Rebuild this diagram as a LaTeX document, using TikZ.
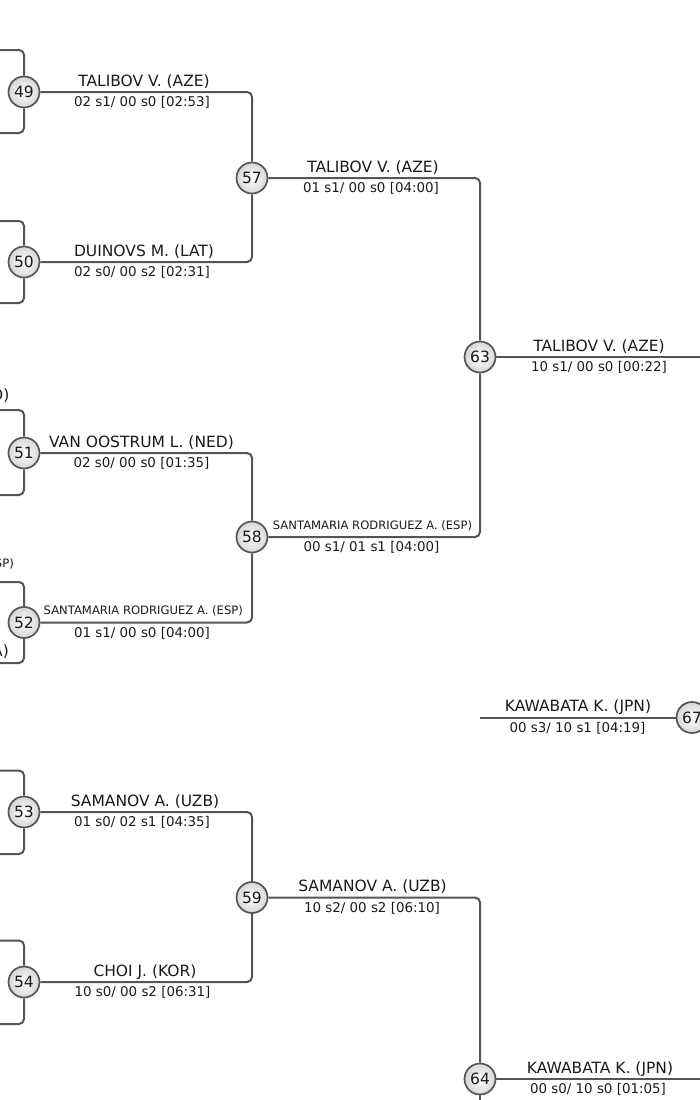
\documentclass[tikz,border=0pt]{standalone}
\usepackage{fontspec}
\setmainfont{DejaVu Sans}
\definecolor{ln}{HTML}{555555}
\definecolor{tx}{HTML}{1A1A1A}
\begin{document}
\begin{tikzpicture}[x=1pt,y=-1pt,
 conn/.style={draw=ln, line width=2pt, rounded corners=5pt},
 circ/.style={circle, draw=ln, line width=1.7pt, minimum size=31pt, inner sep=0pt,
   shading=radial, inner color=white, outer color=gray!32,
   font=\fontsize{15.5}{15.5}\selectfont, text=tx},
 nm/.style={anchor=base, inner sep=0pt, font=\fontsize{15.5}{16}\selectfont, text=tx},
 nms/.style={anchor=base, inner sep=0pt, font=\fontsize{11.6}{12}\selectfont, text=tx},
 sc/.style={anchor=base, inner sep=0pt, font=\fontsize{13.4}{14}\selectfont, text=tx},
 cut/.style={anchor=base east, inner sep=0pt, text=tx}
]
\useasboundingbox (0,0) rectangle (700,1100);
\clip (0,0) rectangle (700,1100);

% match circles
\node[circ] (m49) at (24,92) {49};
\node[circ] (m50) at (24,262) {50};
\node[circ] (m51) at (24,453) {51};
\node[circ] (m52) at (24,622.5) {52};
\node[circ] (m53) at (24,812) {53};
\node[circ] (m54) at (24,982) {54};
\node[circ] (m57) at (252,178) {57};
\node[circ] (m58) at (252,537) {58};
\node[circ] (m59) at (252,897.5) {59};
\node[circ] (m63) at (480,357) {63};
\node[circ] (m64) at (480,1079) {64};
\node[circ] (m67) at (692,717.5) {67};

% free ends
\coordinate (a49) at (0,50);   \coordinate (b49) at (0,133);
\coordinate (a50) at (0,221);  \coordinate (b50) at (0,303);
\coordinate (a51) at (0,410);  \coordinate (b51) at (0,495);
\coordinate (a52) at (0,582);  \coordinate (b52) at (0,663);
\coordinate (a53) at (0,770.5);  \coordinate (b53) at (0,854);
\coordinate (a54) at (0,940.5);  \coordinate (b54) at (0,1024);
\coordinate (e63) at (700,357);
\coordinate (e64) at (700,1079);
\coordinate (d64) at (480,1100);
\coordinate (s67) at (480,717.5);

% left brackets
\foreach \m in {49,50,51,52,53,54}{
  \draw[conn] (a\m) -| (m\m.north);
  \draw[conn] (b\m) -| (m\m.south);
}
% round 2
\draw[conn] (m49.east) -| (m57.north);
\draw[conn] (m50.east) -| (m57.south);
\draw[conn] (m51.east) -| (m58.north);
\draw[conn] (m52.east) -| (m58.south);
\draw[conn] (m53.east) -| (m59.north);
\draw[conn] (m54.east) -| (m59.south);
% round 3
\draw[conn] (m57.east) -| (m63.north);
\draw[conn] (m58.east) -| (m63.south);
\draw[conn] (m59.east) -| (m64.north);
\draw[conn] (m64.south) -- (d64);
\draw[conn] (m63.east) -- (e63);
\draw[conn] (m64.east) -- (e64);
\draw[conn] (s67) -- (m67.west);

% labels
\node[nm] (n49) at (144,86) {TALIBOV V. (AZE)};
\node[sc] (s49) at (142,106.8) {02 s1/ 00 s0 [02:53]};
\node[nm] (n50) at (144,256) {DUINOVS M. (LAT)};
\node[sc] (s50) at (142,276.8) {02 s0/ 00 s2 [02:31]};
\node[nm] (n51) at (141.5,447) {VAN OOSTRUM L. (NED)};
\node[sc] (s51) at (141.5,467.8) {02 s0/ 00 s0 [01:35]};
\node[nms] (n52) at (143.3,614.5) {SANTAMARIA RODRIGUEZ A. (ESP)};
\node[sc] (s52) at (142,637.3) {01 s1/ 00 s0 [04:00]};
\node[nm] (n53) at (145,806) {SAMANOV A. (UZB)};
\node[sc] (s53) at (142,826.8) {01 s0/ 02 s1 [04:35]};
\node[nm] (n54) at (145,976) {CHOI J. (KOR)};
\node[sc] (s54) at (142.5,996.8) {10 s0/ 00 s2 [06:31]};
\node[nm] (n57) at (373,172) {TALIBOV V. (AZE)};
\node[sc] (s57) at (371,192.8) {01 s1/ 00 s0 [04:00]};
\node[nms] (n58) at (372.5,529) {SANTAMARIA RODRIGUEZ A. (ESP)};
\node[sc] (s58) at (371.5,551.8) {00 s1/ 01 s1 [04:00]};
\node[nm] (n59) at (372.5,891.5) {SAMANOV A. (UZB)};
\node[sc] (s59) at (372,912.3) {10 s2/ 00 s2 [06:10]};
\node[nm] (n63) at (599,351) {TALIBOV V. (AZE)};
\node[sc] (s63) at (599,371.8) {10 s1/ 00 s0 [00:22]};
\node[nm] (n64) at (600,1073) {KAWABATA K. (JPN)};
\node[sc] (s64) at (598,1093.8) {00 s0/ 10 s0 [01:05]};
\node[nm] (n67) at (578,711.5) {KAWABATA K. (JPN)};
\node[sc] (s67t) at (577.5,732.3) {00 s3/ 10 s1 [04:19]};

% texts cut off at the left edge, as in the reference
\node[cut, font=\fontsize{15.5}{16}\selectfont] (c1) at (9.5,400) {D)};
\node[cut, font=\fontsize{11.6}{12}\selectfont] (c2) at (14,567.5) {SP)};
\node[cut, font=\fontsize{15.5}{16}\selectfont] (c3) at (9,656) {A)};
\end{tikzpicture}
\end{document}
